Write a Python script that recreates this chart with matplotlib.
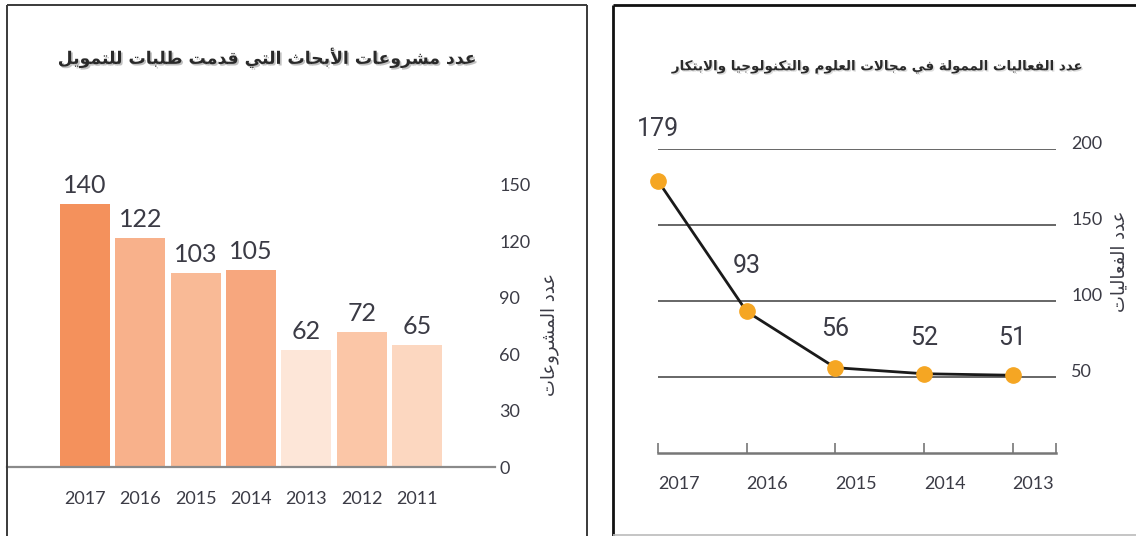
import matplotlib
matplotlib.use("Agg")
import matplotlib.pyplot as plt
from matplotlib.lines import Line2D
import matplotlib.patheffects as pe
import numpy as np

# ---------------- data ----------------
bar_years = ["2017", "2016", "2015", "2014", "2013", "2012", "2011"]
bar_values = [140, 122, 103, 105, 62, 72, 65]
bar_colors = ["#F4915C", "#F8B18B", "#F9BA96", "#F7A77E", "#FDE6D8", "#FBC6A7", "#FCD7C0"]
bar_yticks = [0, 30, 60, 90, 120, 150]

line_years = ["2017", "2016", "2015", "2014", "2013"]
line_values = [179, 93, 56, 52, 51]
line_yticks = [50, 100, 150, 200]
line_label_dy = [37, 33, 28, 26, 27]   # label offsets (points)

left_title = "عدد مشروعات الأبحاث التي قدمت طلبات للتمويل"
left_ylabel = "عدد المشروعات"
right_title = "عدد الفعاليات الممولة في مجالات العلوم والتكنولوجيا والابتكار"
right_ylabel = "عدد الفعاليات"

# ------------- minimal Arabic shaping (presentation forms + RTL order) -------------
DUAL = {'ئ': 0xFE89, 'ب': 0xFE8F, 'ت': 0xFE95, 'ث': 0xFE99, 'ج': 0xFE9D, 'ح': 0xFEA1,
        'خ': 0xFEA5, 'س': 0xFEB1, 'ش': 0xFEB5, 'ص': 0xFEB9, 'ض': 0xFEBD, 'ط': 0xFEC1,
        'ظ': 0xFEC5, 'ع': 0xFEC9, 'غ': 0xFECD, 'ف': 0xFED1, 'ق': 0xFED5, 'ك': 0xFED9,
        'ل': 0xFEDD, 'م': 0xFEE1, 'ن': 0xFEE5, 'ه': 0xFEE9, 'ي': 0xFEF1}
RIGHT = {'آ': 0xFE81, 'أ': 0xFE83, 'ؤ': 0xFE85, 'إ': 0xFE87, 'ا': 0xFE8D, 'ة': 0xFE93,
         'د': 0xFEA9, 'ذ': 0xFEAB, 'ر': 0xFEAD, 'ز': 0xFEAF, 'و': 0xFEED, 'ى': 0xFEEF}
LAMALEF = {'آ': 0xFEF5, 'أ': 0xFEF7, 'إ': 0xFEF9, 'ا': 0xFEFB}


def shape(s):
    out = []
    i, n = 0, len(s)
    while i < n:
        c = s[i]
        prev = s[i - 1] if i > 0 else ''
        jp = prev in DUAL
        if c == 'ل' and i + 1 < n and s[i + 1] in LAMALEF:
            b = LAMALEF[s[i + 1]]
            out.append(chr(b + 1 if jp else b))
            i += 2
            continue
        if c in DUAL:
            jn = i + 1 < n and (s[i + 1] in DUAL or s[i + 1] in RIGHT)
            b = DUAL[c]
            f = b + 3 if (jp and jn) else b + 1 if jp else b + 2 if jn else b
            out.append(chr(f))
        elif c in RIGHT:
            out.append(chr(RIGHT[c] + 1 if jp else RIGHT[c]))
        else:
            out.append(c)
        i += 1
    return ''.join(reversed(out))


# ---------------- figure ----------------
W, H = 1136, 536
fig = plt.figure(figsize=(W / 100, H / 100), dpi=100)
fig.patch.set_facecolor("white")


def px_axes(x0, x1, ytop, ybot):
    return fig.add_axes([x0 / W, (H - ybot) / H, (x1 - x0) / W, (ybot - ytop) / H])


def fline(x0, y0, x1, y1, color, lw):
    fig.add_artist(Line2D([x0 / W, x1 / W], [1 - y0 / H, 1 - y1 / H],
                          transform=fig.transFigure, color=color, lw=lw,
                          solid_capstyle="butt"))


NUMFONT = ["Lato", "DejaVu Sans"]
ARFONT = ["DejaVu Sans"]
TXT = "#3b3b45"

# panel frames
fline(7, 5, 7, 540, "#3a3a3a", 1.4)
fline(7, 5, 587, 5, "#3a3a3a", 1.4)
fline(587, 5, 587, 540, "#3a3a3a", 1.4)
fline(613, 5, 613, 540, "#111111", 2.0)
fline(613, 5, 1140, 5, "#111111", 2.0)
fline(613, 535, 1140, 535, "#bbbbbb", 1.2)

# ---------------- left: bar chart ----------------
axL = px_axes(7, 495, 185, 467)
xb = np.arange(len(bar_values))
axL.bar(xb, bar_values, width=0.90, color=bar_colors, zorder=2)
axL.set_xlim(-1.41, 7.41)
axL.set_ylim(0, 150)
for s in ["top", "left", "right"]:
    axL.spines[s].set_visible(False)
axL.spines["bottom"].set_color("#8a8a8a")
axL.spines["bottom"].set_linewidth(1.6)
axL.spines["bottom"].set_zorder(3)
axL.set_xticks(xb, bar_years)
axL.tick_params(axis="x", length=0, pad=17, labelsize=13, labelcolor=TXT)
axL.yaxis.tick_right()
axL.set_yticks(bar_yticks)
axL.tick_params(axis="y", length=0, pad=3, labelsize=13, labelcolor=TXT)
for lbl in axL.get_xticklabels() + axL.get_yticklabels():
    lbl.set_family(NUMFONT)
for lbl in axL.get_yticklabels():
    lbl.set_horizontalalignment("left")
for xi, v in zip(xb, bar_values):
    axL.annotate(str(v), (xi, v), xytext=(0, 5), textcoords="offset points",
                 ha="center", va="bottom", fontsize=18, color=TXT,
                 family=NUMFONT, annotation_clip=False)

fig.text(268 / W, 1 - 58 / H, shape(left_title), ha="center", va="center",
         fontsize=12.4, fontweight="bold", family=ARFONT, color="#2a2a2a",
         path_effects=[pe.withSimplePatchShadow(offset=(1.2, -1.2),
                                                shadow_rgbFace="#999999", alpha=0.6)])
fig.text(550 / W, 1 - 335 / H, shape(left_ylabel), ha="center", va="center",
         rotation=90, fontsize=13, family=ARFONT, color=TXT)

# ---------------- right: line chart ----------------
axR = px_axes(658, 1056, 149, 452.7)
xl = np.arange(len(line_values))
axR.plot(xl, line_values, color="#1a1a1a", lw=2.0, zorder=3, clip_on=False)
axR.plot(xl, line_values, ls="none", marker="o", ms=11, mfc="#F5A623",
         mec="#F5A623", zorder=4, clip_on=False)
axR.set_xlim(0, 4.49)
axR.set_ylim(0, 200)
for s in ["top", "left", "right"]:
    axR.spines[s].set_visible(False)
axR.spines["bottom"].set_color("#777777")
axR.spines["bottom"].set_linewidth(1.8)
axR.set_yticks(line_yticks)
axR.yaxis.tick_right()
axR.grid(axis="y", color="#5a5a5a", lw=1.3, zorder=1)
axR.tick_params(axis="y", length=0, pad=11, labelsize=13, labelcolor=TXT)
for lbl in axR.get_yticklabels():
    lbl.set_family(NUMFONT)
    lbl.set_verticalalignment("baseline")
axR.set_xticks(xl, line_years)
axR.set_xticks([4.49], minor=True)
axR.tick_params(axis="x", which="both", direction="in", length=7, width=1.2,
                color="#777777", pad=17, labelsize=13, labelcolor=TXT)
for lbl in axR.get_xticklabels():
    lbl.set_family(NUMFONT)
    lbl.set_horizontalalignment("left")
for xi, v, dy in zip(xl, line_values, line_label_dy):
    axR.annotate(str(v), (xi, v), xytext=(0, dy), textcoords="offset points",
                 ha="center", va="center", fontsize=18, color=TXT,
                 family=["Roboto", "DejaVu Sans"], annotation_clip=False)

fig.text(879 / W, 1 - 67 / H, shape(right_title), ha="center", va="center",
         fontsize=9.7, fontweight="bold", family=ARFONT, color="#2a2a2a",
         path_effects=[pe.withSimplePatchShadow(offset=(1, -1),
                                                shadow_rgbFace="#bbbbbb", alpha=0.5)])
fig.text(1119 / W, 1 - 261 / H, shape(right_ylabel), ha="center", va="center",
         rotation=90, fontsize=13, family=ARFONT, color=TXT)

fig.savefig("out.png", dpi=100)
